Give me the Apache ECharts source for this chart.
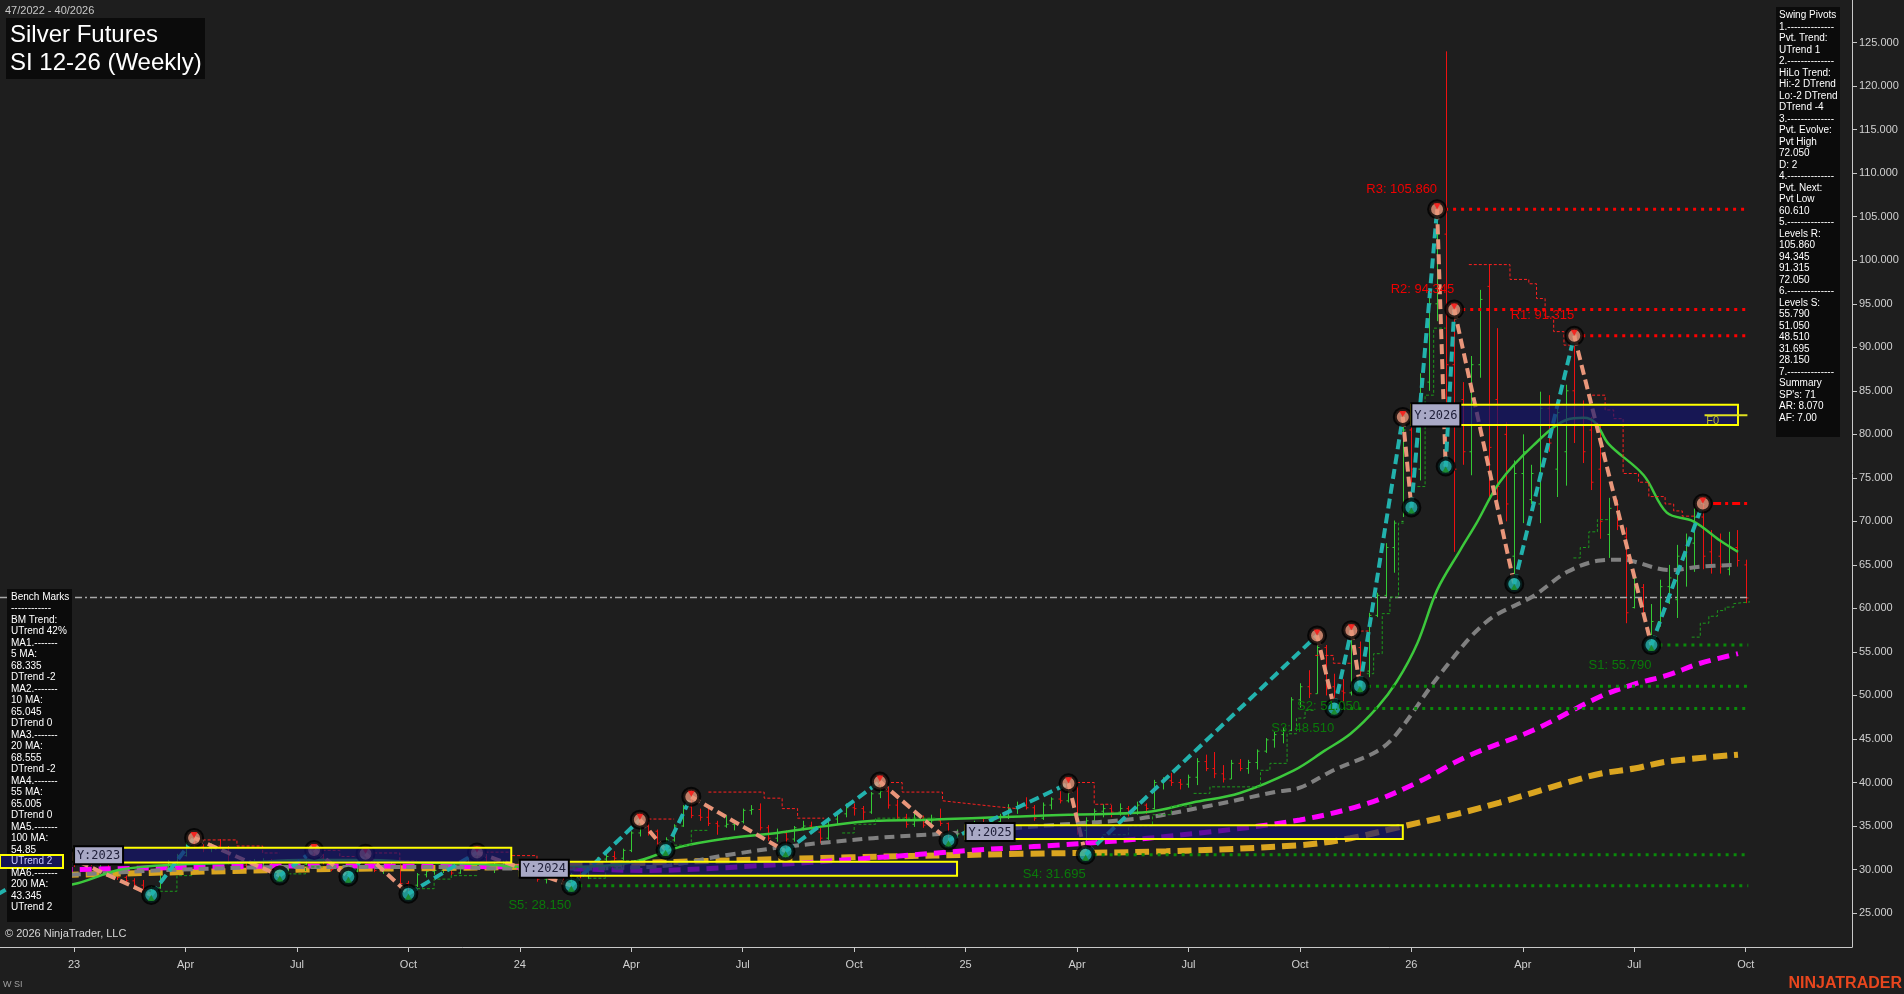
<!DOCTYPE html>
<html>
<head>
<meta charset="utf-8">
<title>Silver Futures SI 12-26 (Weekly)</title>
<script src="https://cdn.jsdelivr.net/npm/echarts@6.0.0/dist/echarts.min.js"></script>
<style>
html,body{margin:0;padding:0;background:#1e1e1e;overflow:hidden}
#chart{width:1904px;height:994px}
</style>
</head>
<body>
<div id="chart"></div>
<script>
// ---------- DATA (weekly bars, index 0 = week 47/2022) ----------
const bars2022 = [
 [28.0,28.6,27.4,28.3],[28.3,30.2,28.1,30.0],[30.0,30.9,29.6,30.4],[30.4,31.0,29.8,30.2],[30.2,31.0,29.9,30.8],[30.8,31.6,30.4,31.1]
];
const bars2023 = [
 [31.1,31.5,30.3,31.0],[31.0,31.4,30.5,31.2],[31.2,31.3,30.4,30.7],[30.7,31.2,30.3,30.8],[30.8,31.0,29.2,29.4],
 [29.4,29.8,28.8,29.1],[29.1,29.3,28.3,28.7],[28.7,29.0,28.0,28.2],[28.2,28.8,27.5,27.7],[27.7,28.1,27.08,27.9],
 [27.9,30.2,27.8,30.0],[30.0,31.1,29.8,30.9],[30.9,31.8,30.4,31.6],[31.6,33.2,31.5,33.0],[33.0,33.63,32.4,32.6],
 [32.6,32.9,32.0,32.4],[32.4,33.0,32.0,32.7],[32.7,33.5,32.3,32.5],[32.5,32.7,30.6,30.8],[30.8,31.0,30.1,30.5],
 [30.5,30.8,29.9,30.2],[30.2,31.2,30.0,30.9],[30.9,31.3,30.3,31.0],[31.0,31.2,29.9,30.1],[30.1,30.4,29.31,29.6],
 [29.6,30.5,29.4,30.3],[30.3,30.8,29.9,30.6],[30.6,31.8,30.5,31.6],[31.6,32.24,31.0,31.3],[31.3,31.8,30.6,31.0],
 [31.0,31.2,29.8,30.0],[30.0,30.3,29.4,29.6],[29.6,29.9,29.17,29.8],[29.8,31.2,29.7,31.0],[31.0,31.82,30.6,30.8],
 [30.8,31.0,29.7,29.9],[29.9,30.3,29.5,30.1],[30.1,30.8,29.8,30.4],[30.4,30.6,28.2,28.4],[28.4,28.7,27.22,28.2],
 [28.2,29.6,28.0,29.4],[29.4,30.1,29.1,29.8],[29.8,30.2,29.4,29.9],[29.9,30.6,29.6,30.3],[30.3,30.4,29.3,29.6],
 [29.6,31.0,29.5,30.8],[30.8,31.6,30.6,31.4],[31.4,31.96,31.0,31.6],[31.6,31.7,30.2,30.4],[30.4,30.9,29.6,30.6],
 [30.6,31.0,30.2,30.7],[30.7,31.1,30.4,30.6]
];
const bars2024 = [
 [30.6,30.8,29.6,29.8],[29.8,30.0,29.3,29.6],[29.6,29.8,28.6,28.9],[28.9,29.6,28.4,29.3],[29.3,29.9,29.0,29.5],
 [29.5,29.7,28.5,28.7],[28.7,29.6,28.15,29.4],[29.4,29.9,29.0,29.3],[29.3,30.3,28.9,30.1],[30.1,31.4,30.0,31.2],
 [31.2,31.9,30.9,31.5],[31.5,32.1,31.0,31.3],[31.3,32.4,31.1,32.2],[32.2,34.4,32.0,34.2],[34.2,35.73,33.8,35.0],
 [35.0,35.5,33.9,34.4],[34.4,34.6,32.6,33.0],[33.0,33.7,32.24,33.4],[33.4,35.2,33.2,35.0],[35.0,37.4,34.9,37.2],
 [37.2,38.37,35.9,36.2],[36.2,37.0,35.6,36.0],[36.0,37.2,35.0,35.3],[35.3,35.6,34.0,35.0],[35.0,36.2,34.8,35.2],
 [35.2,35.7,34.5,35.5],[35.5,37.0,35.3,36.8],[36.8,37.4,36.3,36.9],[36.9,37.6,34.5,34.8],[34.8,35.1,33.3,33.6],
 [33.6,34.7,33.2,34.2],[34.2,34.5,32.1,33.5],[33.5,35.0,33.2,34.8],[34.8,35.6,34.5,35.0],[35.0,35.5,34.1,34.3],
 [34.3,34.8,33.0,33.6],[33.6,36.0,33.4,35.8],[35.8,36.6,35.2,36.4],[36.4,37.6,36.0,37.1],[37.1,37.6,36.2,37.0],
 [37.0,37.3,35.7,36.6],[36.6,38.9,36.4,38.7],[38.7,40.1,38.2,39.0],[39.0,39.5,37.0,37.4],[37.4,38.0,35.7,36.0],
 [36.0,36.4,34.8,35.2],[35.2,36.5,34.9,35.9],[35.9,36.2,34.8,35.1],[35.1,36.3,34.9,35.6],[35.6,37.0,35.0,35.3],
 [35.3,35.4,33.35,34.0],[34.0,34.6,33.7,34.1]
];
const bars2025 = [
 [34.1,35.0,33.8,34.8],[34.8,35.6,34.4,35.3],[35.3,35.9,34.5,34.9],[34.9,35.8,34.6,35.5],[35.5,36.4,35.0,36.1],
 [36.1,37.5,35.8,37.0],[37.0,37.8,36.4,37.3],[37.3,38.3,36.9,37.1],[37.1,37.4,35.6,35.9],[35.9,37.7,35.7,37.4],
 [37.4,38.3,36.9,38.1],[38.1,39.0,37.6,37.9],[37.9,39.9,37.7,39.4],[39.4,39.6,34.0,34.5],[34.5,36.0,31.695,35.6],
 [35.6,37.0,35.3,36.7],[36.7,37.5,36.0,37.0],[37.0,37.4,36.0,36.6],[36.6,37.6,36.2,37.0],[37.0,37.3,36.1,36.5],
 [36.5,37.8,36.3,37.4],[37.4,37.6,36.4,37.0],[37.0,40.3,36.9,40.0],[40.0,40.6,39.2,40.2],[40.2,41.1,39.6,40.0],
 [40.0,40.4,39.2,39.8],[39.8,40.9,39.4,40.6],[40.6,42.8,39.7,42.4],[42.4,43.2,41.3,41.6],[41.6,43.5,40.5,41.0],
 [41.0,42.0,40.0,40.4],[40.4,42.6,40.4,42.2],[42.2,42.7,41.3,41.6],[41.6,42.6,41.0,42.3],[42.3,43.8,41.5,43.6],
 [43.6,45.1,43.4,44.9],[44.9,45.8,44.0,45.5],[45.5,46.3,44.5,46.0],[46.0,49.8,45.9,49.5],[49.5,51.4,48.6,51.0],
 [51.0,52.9,49.7,50.2],[50.2,56.9,50.2,55.5],[55.5,55.8,50.0,51.0],[51.0,52.5,48.51,50.5],[50.5,51.9,49.3,50.3],
 [50.3,57.5,50.0,55.5],[55.5,56.2,51.05,52.8],[52.8,59.5,52.1,59.2],[59.2,61.8,59.0,61.5],[61.5,67.5,61.3,67.0],
 [67.0,70.1,64.1,69.8],[70.0,82.4,70.5,80.5]
];
const bars2026 = [
 [80.5,81.5,71.6,76.0],[76.0,87.0,74.7,86.0],[86.0,96.5,85.0,95.0],[95.0,105.86,93.0,103.0],[103.0,124.0,76.3,88.0],
 [88.0,94.345,66.5,76.0],[84.0,86.0,76.5,78.0],[78.0,89.0,75.3,88.0],[88.0,96.6,86.5,95.5],[97.0,99.5,72.4,78.5],
 [84.0,92.2,72.0,74.0],[80.0,81.4,70.0,72.0],[66.0,77.0,62.8,75.5],[75.5,80.0,69.8,78.0],[72.5,76.5,72.0,75.5],
 [72.0,84.9,69.8,83.0],[83.0,84.5,78.0,79.0],[76.0,84.0,72.8,82.5],[78.0,85.7,74.1,85.0],[85.0,91.315,79.0,81.0],
 [81.0,83.9,76.7,78.0],[80.5,82.0,73.6,74.5],[76.0,81.0,68.0,70.0],[68.5,72.7,65.8,71.5],[72.0,72.5,69.0,69.5],
 [68.2,69.3,58.3,59.5],[60.1,64.3,60.0,63.5],[62.4,62.8,59.0,59.3],[57.0,60.5,55.79,58.5],[58.5,63.3,57.9,62.5],
 [62.5,65.0,60.5,63.5],[61.0,67.3,58.9,66.0],[66.0,68.6,62.5,67.5],[67.5,71.5,64.2,70.5],[70.5,72.05,64.5,66.0],
 [66.5,69.0,64.0,65.0],[66.0,68.6,64.0,64.8],[64.5,68.8,63.8,67.0],[67.0,69.0,64.8,65.5],[65.0,65.6,60.6,61.2]
];

// axis ticks
const xTickIdx = [6,19,32,45,58,71,84,97,110,123,136,149,162,175,188,201];
const xTickLabels = ['23','Apr','Jul','Oct','24','Apr','Jul','Oct','25','Apr','Jul','Oct','26','Apr','Jul','Oct'];
const yTicks = [25,30,35,40,45,50,55,60,65,70,75,80,85,90,95,100,105,110,115,120,125];

// moving averages [weekIndex, value]
const ma20 = [[0,27.6],[5.9,28.3],[11.5,30.0],[18.6,30.6],[25.7,30.8],[32.8,31.1],[39.9,31.1],[47,30.8],[54,30.6],[58.3,30.3],[64,30.3],[71,30.8],[76.7,32.6],[82.4,33.6],[88,34.2],[93.7,35.0],[99.4,35.6],[105,35.7],[110.7,35.9],[116.4,36.1],[122,36.3],[131.2,36.6],[136.5,37.7],[142,38.8],[148.3,41.4],[151.8,43.6],[154.9,45.6],[158,48.6],[160.3,51.6],[162.7,56.0],[165,62.1],[167.7,66.7],[169.6,69.8],[172.3,74.5],[176.2,78.7],[180.2,81.7],[182.1,81.9],[183.5,81.3],[185,78.9],[189.1,75.3],[191.8,71.0],[194.9,70.0],[198,67.8],[200.1,66.5]];
const ma55 = [[0,29.2],[5.6,29.4],[18.6,30.0],[32.8,30.3],[47,30.3],[58.3,30.1],[73.2,30.3],[82.4,31.7],[88.9,32.6],[99.2,33.6],[108.6,34.2],[120.1,35.1],[130.5,35.9],[138.3,37.3],[146.1,38.9],[149,39.4],[152.9,41.4],[158,43.6],[160.3,45.6],[165.4,52.5],[170.8,58.5],[176.2,61.4],[180.2,64.2],[184,65.5],[186.4,65.6],[192.2,64.4],[195.7,64.8],[200,65.0]];
const ma100 = [[0,29.9],[5.6,30.0],[32.8,30.4],[56.9,30.3],[73.2,29.9],[85.2,30.4],[98.7,31.3],[110.7,32.2],[125.2,33.1],[137.3,34.2],[149,35.7],[156.9,37.6],[162.7,40.0],[168.5,43.0],[176.2,46.0],[184.1,49.9],[188,51.3],[191.8,52.3],[195.7,53.7],[200.1,54.8]];
const ma200 = [[0,29.3],[5.6,29.4],[32.8,30.0],[56.9,30.3],[73.2,30.8],[96.5,31.4],[116.4,31.8],[133.4,32.1],[149,32.8],[154.9,33.6],[160.7,34.9],[167.4,36.4],[172.3,37.7],[180.2,40.0],[184,41.0],[188,41.6],[191.8,42.4],[200.1,43.2]];

// swing pivots (alternating low / high)
const pivots = [[-3,27.1],[5,31.6],[15,27.08],[20,33.63],[30,29.31],[34,32.24],[38,29.17],[40,31.82],[45,27.22],[53,31.96],[64,28.15],[72,35.73],[75,32.24],[78,38.37],[89,32.1],[100,40.1],[108,33.35],[122,39.9],[124,31.695],[151,56.9],[153,48.51],[155,57.5],[156,51.05],[161,82.0],[162,71.6],[165,105.86],[166,76.3],[167,94.345],[174,62.8],[181,91.315],[190,55.79],[196,72.05]];

// swing levels
const resLevels = [[165,105.86,'R3'],[167,94.345,'R2'],[181,91.315,'R1']];
const supLevels = [[190,55.79,'S1'],[156,51.05,'S2'],[153,48.51,'S3'],[124,31.695,'S4'],[64,28.15,'S5']];
const lastPivotHigh = [196,72.05];
const lastPrice = 61.25;

// year range boxes [startIdx, endIdx, top, bottom]
const yearBoxes = [[6,57,32.5,30.8],[58,109,30.9,29.3],[110,161,35.1,33.5],[162,200.1,83.4,81.06]];
const yearNames = ['Y:2023','Y:2024','Y:2025','Y:2026'];
const f0Level = 82.2;

// trailing step lines
const redSteps = [
 [[21,33.4],[25,33.4],[25,32.7],[28,32.7],[28,31.9],[30,31.9]],
 [[35,32.2],[37,32.2],[37,31.5],[39,31.5]],
 [[41,31.9],[44,31.9],[44,31.0],[46,31.0]],
 [[54,32.0],[57,32.0],[57,31.6],[60,31.6],[60,30.8],[63,30.8],[63,30.2],[65,30.2]],
 [[73,35.8],[76,35.8]],
 [[80,38.9],[86.5,38.9],[86.5,38.2],[88.6,38.2],[88.6,37.0],[90.4,37.0],[90.4,35.9],[93.5,35.9]],
 [[101.3,40.0],[102.6,40.0],[102.6,38.9],[107.3,38.9],[107.3,37.9],[111,37.5],[113.8,37.2],[116,37.0]],
 [[123,40.0],[125,40.0],[125,37.5],[127,37.5]],
 [[150.8,54.6],[152.9,54.6],[152.9,53.7],[154.9,53.7]],
 [[155.5,57.4],[157,57.4]],
 [[168.7,99.5],[173.5,99.5],[173.5,97.8],[175.7,97.8],[175.7,97.3],[176.6,97.3],[176.6,95.6],[177.6,95.6],[177.6,93.5],[178.6,93.5],[178.6,91.8],[179.8,91.8],[179.8,90.25],[180.9,90.25]],
 [[182.5,84.5],[184.6,84.5],[184.6,82.8],[185.6,82.8],[185.6,81.8],[186.7,81.8],[186.7,75.5],[188.5,75.5],[188.5,74.5],[189.7,74.5],[189.7,72.85],[191.6,72.85],[191.6,72.0],[192.6,72.0],[192.6,71.2],[193.6,71.2],[193.6,70.6],[195.5,70.6]]
];
const greenSteps = [
 [[16,27.5],[18,27.5],[18,29.3],[20,29.3]],
 [[31,29.5],[33,29.5],[33,30.3],[35,30.3]],
 [[46,27.8],[48,27.8],[48,28.9],[50,28.9],[50,29.3],[53,29.3]],
 [[66,29.0],[68,29.0],[68,30.2],[70,30.2],[70,31.0],[72,31.0]],
 [[76,32.8],[78,32.8],[78,34.5],[80,34.5]],
 [[95.6,34.2],[97,34.2],[97,35.2],[99.5,35.2],[99.5,35.9],[106.5,35.9]],
 [[126,34.0],[129,34.0],[129,35.0],[131.8,35.0],[131.8,36.3],[134,36.3],[134,37.3],[136.6,37.3]],
 [[136.6,38.75],[138.5,38.75],[138.5,39.5],[144.4,39.5],[144.4,41.4],[145.5,41.4],[145.5,42.2],[147.5,42.2],[147.5,45.6],[148.6,45.6],[148.6,47.4],[149.6,47.4],[149.6,48.3],[150.6,48.3]],
 [[156.8,52.5],[157.6,52.5],[157.6,54.8],[158.6,54.8],[158.6,59.4],[159.5,59.4],[159.5,61.3],[160.5,61.3],[160.5,69.8],[161.1,69.8]],
 [[162.7,74.0],[163.6,74.0],[163.6,84.5],[164.6,84.5],[164.6,92.2],[166.0,92.2]],
 [[180.9,65.8],[181.7,65.8],[181.7,67.0],[182.7,67.0],[182.7,68.8],[183.7,68.8],[183.7,70.2],[185.0,70.2]],
 [[194.7,56.7],[195.7,56.7],[195.7,58.3],[196.7,58.3],[196.7,59.1],[197.7,59.1],[197.7,59.75],[198.6,59.75],[198.6,60.15],[199.6,60.15],[199.6,60.55],[201.5,60.75]]
];

// panel texts
const swingLines = ['Swing Pivots','1.--------------','Pvt. Trend:','UTrend 1','2.--------------','HiLo Trend:','Hi:-2 DTrend','Lo:-2 DTrend','DTrend -4','3.--------------','Pvt. Evolve:','Pvt High','72.050','D: 2','4.--------------','Pvt. Next:','Pvt Low','60.610','5.--------------','Levels R:','105.860','94.345','91.315','72.050','6.--------------','Levels S:','55.790','51.050','48.510','31.695','28.150','7.--------------','Summary',"SP's: 71",'AR: 8.070','AF: 7.00'];
const benchLines = ['Bench Marks','------------','BM Trend:','UTrend 42%','MA1.-------','5 MA:','68.335','DTrend -2','MA2.-------','10 MA:','65.045','DTrend 0','MA3.-------','20 MA:','68.555','DTrend -2','MA4.-------','55 MA:','65.005','DTrend 0','MA5.-------','100 MA:','54.85','UTrend 2','MA6.-------','200 MA:','43.345','UTrend 2'];

// ---------- CHART ----------
const FONT = '"Liberation Sans", Arial, sans-serif';
const ohlc = bars2022.concat(bars2023, bars2024, bars2025, bars2026);
const X_MIN = -2.64, X_MAX = 213.4, LAST = ohlc.length - 1, LINE_END = LAST + 0.3;

const TEAL = '#22b2ad', SALMON = '#e9967a';
const series = [];

// OHLC bars
series.push({
  type: 'custom', z: 2,
  renderItem: function (params, api) {
    const i = api.value(0), o = api.value(1), h = api.value(2), l = api.value(3), c = api.value(4);
    const ph = api.coord([i, h]), pl = api.coord([i, l]), po = api.coord([i, o]), pc = api.coord([i, c]);
    const x = Math.round(ph[0]) + 0.5;
    const col = c >= o ? '#34c934' : '#ee1111';
    return { type: 'group', children: [
      { type: 'line', shape: { x1: x, y1: ph[1], x2: x, y2: pl[1] }, style: { stroke: col, lineWidth: 1 } },
      { type: 'line', shape: { x1: x - 2, y1: po[1], x2: x, y2: po[1] }, style: { stroke: col, lineWidth: 1 } },
      { type: 'line', shape: { x1: x, y1: pc[1], x2: x + 2, y2: pc[1] }, style: { stroke: col, lineWidth: 1 } }
    ]};
  },
  encode: { x: 0, y: [1, 2, 3, 4] },
  data: ohlc.map((b, i) => [i, b[0], b[1], b[2], b[3]])
});

// current price dash-dot line
series.push({ type: 'line', z: 3, silent: true, showSymbol: false, data: [[X_MIN, lastPrice], [LAST + 0.5, lastPrice]],
  lineStyle: { color: '#a8a8a8', width: 1.5, type: [7, 3, 2, 3] } });

// moving averages
function maSeries(data, color, width, dash) {
  return { type: 'line', z: 3, silent: true, showSymbol: false, smooth: 0.35, data: data,
    lineStyle: { color: color, width: width, type: dash, cap: 'butt' } };
}
series.push(maSeries(ma200, '#daa520', 6, [14, 7]));
series.push(maSeries(ma100, '#ff00ff', 5, [12, 7]));
series.push(maSeries(ma55, '#808080', 4, [10, 6]));
series.push(maSeries(ma20, '#3cc83c', 2.5, 'solid'));

// trailing step lines
redSteps.forEach(seg => series.push({ type: 'line', z: 3, silent: true, showSymbol: false, data: seg,
  lineStyle: { color: '#ff2020', width: 1, type: [3, 2] } }));
greenSteps.forEach(seg => series.push({ type: 'line', z: 3, silent: true, showSymbol: false, data: seg,
  lineStyle: { color: '#1d9a1d', width: 1, type: [3, 2] } }));

// support / resistance dotted lines
resLevels.forEach(r => series.push({ type: 'line', z: 4, silent: true, showSymbol: false,
  data: [[r[0], r[1]], [LINE_END, r[1]]], lineStyle: { color: '#ff0000', width: 3, type: [3, 5], cap: 'butt' } }));
supLevels.forEach(s => series.push({ type: 'line', z: 4, silent: true, showSymbol: false,
  data: [[s[0], s[1]], [LINE_END, s[1]]], lineStyle: { color: '#0a8a0a', width: 3, type: [3, 5], cap: 'butt' } }));
series.push({ type: 'line', z: 4, silent: true, showSymbol: false,
  data: [[lastPivotHigh[0] + 1.2, lastPivotHigh[1]], [LINE_END, lastPivotHigh[1]]],
  lineStyle: { color: '#ff0000', width: 3, type: [8, 4, 3, 4] } });

// zigzag legs
for (let k = 0; k < pivots.length - 1; k++) {
  const a = pivots[k], b = pivots[k + 1];
  series.push({ type: 'line', z: 5, silent: true, showSymbol: false, data: [a, b],
    lineStyle: { color: b[1] > a[1] ? TEAL : SALMON, width: 4, type: [10, 5], cap: 'butt' } });
}

// pivot markers
series.push({ type: 'scatter', z: 6, silent: true, symbol: 'circle', symbolSize: 16,
  data: pivots.map((p, k) => ({ value: p, itemStyle: { color: k % 2 === 0 ? TEAL : SALMON, borderColor: '#000', borderWidth: 4 } })) });
series.push({ type: 'scatter', z: 6, silent: true, symbol: 'triangle',
  data: pivots.map((p, k) => ({ value: p,
    symbolSize: [7, 6], symbolRotate: k % 2 === 0 ? 0 : 180, symbolOffset: [0, k % 2 === 0 ? 3 : -3],
    itemStyle: { color: k % 2 === 0 ? '#1a8a1a' : '#ff1010' } })) });

// year boxes (semi transparent, above lines)
series.push({
  type: 'custom', z: 7, silent: true,
  renderItem: function (params, api) {
    const p0 = api.coord([api.value(0), api.value(2)]);
    const p1 = api.coord([api.value(1), api.value(3)]);
    return { type: 'rect', shape: { x: p0[0], y: p0[1], width: p1[0] - p0[0], height: p1[1] - p0[1] },
      style: { fill: 'rgba(20,20,110,0.68)', stroke: '#ffff00', lineWidth: 2 } };
  },
  encode: { x: [0, 1], y: [2, 3] },
  data: yearBoxes
});
// F0 marker
series.push({ type: 'line', z: 8, silent: true, showSymbol: false, data: [[196.2, f0Level], [LAST + 0.2, f0Level]],
  lineStyle: { color: '#e0e020', width: 2 } });
series.push({
  type: 'custom', z: 8, silent: true,
  renderItem: function (params, api) {
    const p = api.coord([api.value(0), api.value(1)]);
    return { type: 'text', x: p[0], y: p[1] + 6,
      style: { text: 'F0', fill: '#b8b830', font: '11px ' + FONT, align: 'left', textAlign: 'left', verticalAlign: 'middle', textVerticalAlign: 'middle' } };
  },
  encode: { x: 0, y: 1 },
  data: [[196.4, f0Level]]
});
// year labels
series.push({
  type: 'custom', z: 9, silent: true,
  renderItem: function (params, api) {
    const k = params.dataIndex;
    const p0 = api.coord([api.value(0), api.value(1)]);
    const p1 = api.coord([api.value(0), api.value(2)]);
    const h = Math.max(p1[1] - p0[1] + 3, 18);
    const cy = (p0[1] + p1[1]) / 2;
    return { type: 'group', children: [
      { type: 'rect', shape: { x: p0[0], y: cy - h / 2, width: 49, height: h }, style: { fill: '#a9a9c6', stroke: '#000', lineWidth: 2 } },
      { type: 'text', x: p0[0] + 24.5, y: cy + 0.5,
        style: { text: yearNames[k], fill: '#20203a', font: '12px "DejaVu Sans Mono", monospace',
          align: 'center', textAlign: 'center', verticalAlign: 'middle', textVerticalAlign: 'middle' } }
    ]};
  },
  encode: { x: 0, y: [1, 2] },
  data: yearBoxes.map(b => [b[0], b[2], b[3]])
});
// level labels
series.push({
  type: 'custom', z: 9, silent: true,
  renderItem: function (params, api) {
    const k = params.dataIndex;
    const isRes = k < resLevels.length;
    const lv = isRes ? resLevels[k] : supLevels[k - resLevels.length];
    const p = api.coord([api.value(0), api.value(1)]);
    return { type: 'text', x: p[0], y: p[1] + (isRes ? -20 : 20),
      style: { text: lv[2] + ': ' + lv[1].toFixed(3), fill: isRes ? '#f00000' : '#0a7a0a', font: '13px ' + FONT,
        align: 'right', textAlign: 'right', verticalAlign: 'middle', textVerticalAlign: 'middle' } };
  },
  encode: { x: 0, y: 1 },
  data: resLevels.concat(supLevels).map(l => [l[0], l[1]])
});

// ---------- overlay panels ----------
const g = [];
const txt = (x, y, text, fill, font, align) => ({ type: 'text', x: x, y: y, z: 102, silent: true,
  style: { text: text, fill: fill, font: font, align: align || 'left', textAlign: align || 'left', verticalAlign: 'middle', textVerticalAlign: 'middle' } });
g.push(txt(5, 11, '47/2022 - 40/2026', '#c8c8c8', '11px ' + FONT));
g.push({ type: 'rect', z: 100, silent: true, shape: { x: 6, y: 18, width: 199, height: 61 }, style: { fill: '#0b0b0b' } });
g.push(txt(10, 35, 'Silver Futures', '#ffffff', '24px ' + FONT));
g.push(txt(10, 63, 'SI 12-26 (Weekly)', '#ffffff', '24px ' + FONT));
g.push({ type: 'rect', z: 100, silent: true, shape: { x: 1776, y: 7, width: 64, height: 430 }, style: { fill: '#0b0b0b' } });
swingLines.forEach((t, k) => g.push(txt(1779, 15.7 + k * 11.5, t, '#ffffff', '10px ' + FONT)));
g.push({ type: 'rect', z: 100, silent: true, shape: { x: 7, y: 589, width: 65, height: 333 }, style: { fill: '#0b0b0b' } });
g.push({ type: 'rect', z: 101, silent: true, shape: { x: 0, y: 855, width: 63, height: 13 }, style: { fill: '#161655', stroke: '#ffff00', lineWidth: 2 } });
benchLines.forEach((t, k) => g.push(txt(11, 597 + k * 11.5, t, k === 23 ? '#c8c8ff' : '#ffffff', '10px ' + FONT)));
g.push(txt(5, 934, '\u00a9 2026 NinjaTrader, LLC', '#d8d8d8', '11px ' + FONT));
g.push(txt(3, 985, 'W SI', '#a0a0a0', '9px ' + FONT));
g.push(txt(1902, 984, 'NINJATRADER', '#e8461e', 'bold 16px ' + FONT, 'right'));

const option = {
  backgroundColor: '#1e1e1e',
  animation: false,
  grid: { left: 0, right: 52, top: 0, bottom: 47, containLabel: false },
  xAxis: {
    type: 'value', min: X_MIN, max: X_MAX,
    axisLine: { show: true, onZero: false, lineStyle: { color: '#c8c8c8', width: 1 } },
    axisTick: { show: true, length: 5, customValues: xTickIdx, lineStyle: { color: '#c8c8c8' } },
    axisLabel: { show: true, customValues: xTickIdx, margin: 12, color: '#d0d0d0', fontSize: 11, fontFamily: FONT,
      formatter: v => { const k = xTickIdx.indexOf(Math.round(v)); return k >= 0 ? xTickLabels[k] : ''; } },
    splitLine: { show: false }
  },
  yAxis: {
    type: 'value', position: 'right', min: 21.1, max: 129.9,
    axisLine: { show: true, onZero: false, lineStyle: { color: '#c8c8c8', width: 1 } },
    axisTick: { show: true, length: 5, customValues: yTicks, lineStyle: { color: '#c8c8c8' } },
    axisLabel: { show: true, customValues: yTicks, margin: 7, color: '#d0d0d0', fontSize: 11, fontFamily: FONT,
      formatter: v => Number(v).toFixed(3) },
    splitLine: { show: false }
  },
  series: series,
  graphic: { elements: g }
};
const chart = echarts.init(document.getElementById('chart'));
chart.setOption(option);
</script>
</body>
</html>
